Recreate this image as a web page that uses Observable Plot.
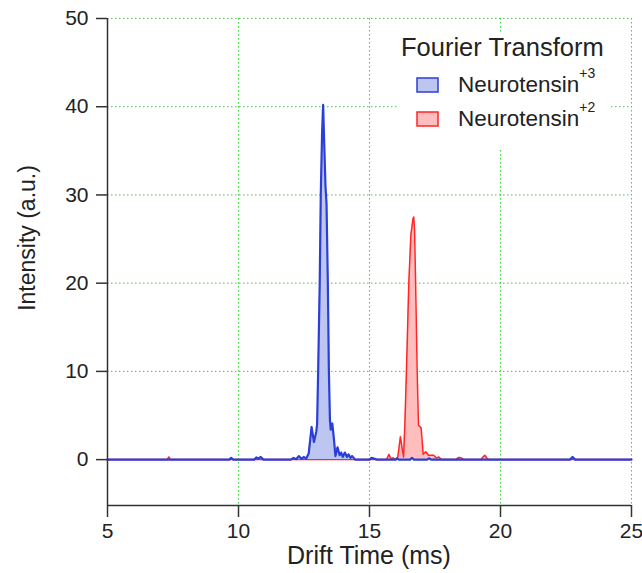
<!DOCTYPE html>
<html>
<head>
<meta charset="utf-8">
<script src="https://cdn.jsdelivr.net/npm/d3@7"></script>
<script src="https://cdn.jsdelivr.net/npm/@observablehq/plot@0.6"></script>
<style>
  html, body { margin: 0; padding: 0; background: #fff; }
</style>
</head>
<body>
<div id="chart"></div>
<script>
// Drift time (ms) and intensity (a.u.)
const blueTime = [5, 9.65, 9.72, 9.8, 10.6, 10.68, 10.75, 10.85, 10.95, 12.0, 12.1, 12.2, 12.3, 12.4, 12.5, 12.58, 12.68, 12.79, 12.88, 12.97, 13.0, 13.04, 13.1, 13.14, 13.19, 13.23, 13.27, 13.32, 13.36, 13.41, 13.45, 13.49, 13.52, 13.58, 13.64, 13.7, 13.78, 13.86, 13.92, 13.98, 14.06, 14.14, 14.2, 14.28, 14.34, 14.45, 15.0, 15.08, 15.2, 15.28, 16.0, 16.05, 16.12, 16.55, 16.62, 16.7, 17.2, 17.27, 17.35, 22.65, 22.75, 22.85, 25];
const blueValue = [0, 0, 0.2, 0, 0, 0.25, 0.1, 0.3, 0, 0, 0.2, 0.05, 0.4, 0.1, 0.3, 0.1, 0.7, 3.7, 2.0, 3.2, 4, 10, 20, 30, 37, 40.2, 36, 31, 29, 20, 10, 4.5, 3.4, 4.1, 2.4, 0.4, 1.4, 0.5, 0.8, 0.3, 0.8, 0.3, 0.6, 0.2, 0.4, 0, 0, 0.2, 0.1, 0, 0, 0.15, 0, 0, 0.2, 0, 0, 0.15, 0, 0, 0.3, 0, 0];

const redTime = [5, 7.28, 7.34, 7.4, 15.65, 15.74, 15.82, 15.9, 16.0, 16.08, 16.18, 16.25, 16.3, 16.35, 16.41, 16.5, 16.58, 16.66, 16.69, 16.72, 16.76, 16.82, 16.87, 16.97, 17.05, 17.15, 17.25, 17.45, 17.55, 17.65, 17.75, 18.3, 18.4, 18.5, 18.6, 19.25, 19.4, 19.5, 19.55, 25];
const redValue = [0, 0, 0.3, 0, 0, 0.6, 0.1, 0.2, 0, 0.3, 2.6, 1.2, 0.3, 4, 10, 20, 25.5, 27.3, 27.5, 26, 20, 10, 3.9, 3.6, 0.6, 0.9, 0.5, 0.5, 0.2, 0.3, 0, 0, 0.25, 0.2, 0, 0, 0.5, 0.1, 0, 0];

const xTicks = [5, 10, 15, 20, 25];
const yTicks = [0, 10, 20, 30, 40, 50];
const seriesNames = ["Neurotensin", "Neurotensin"];
const seriesCharges = ["+3", "+2"];
const legendTitle = "Fourier Transform";
const xLabel = "Drift Time (ms)";
const yLabel = "Intensity (a.u.)";

const blue = blueTime.map((t, i) => ({t, v: blueValue[i]}));
const red = redTime.map((t, i) => ({t, v: redValue[i]}));

const FONT = "'Liberation Sans', Arial, Helvetica, sans-serif";
const blueLine = "#2b3ed8", blueFill = "#bdc6f0";
const redLine = "#ff2626", redFill = "#ffbdbd";
const gridStyle = {stroke: "#3fcc3f", strokeOpacity: 1, strokeDasharray: "1.5,2.5", strokeWidth: 1};

const chart = Plot.plot({
  width: 642,
  height: 573,
  marginLeft: 107,
  marginRight: 11,
  marginTop: 18,
  marginBottom: 68,
  x: {domain: [5, 25]},
  y: {domain: [-5.2, 50]},
  style: {fontFamily: FONT, fontSize: "21px", color: "#222", background: "#fff", overflow: "visible"},
  marks: [
    Plot.gridX(xTicks.slice(1), gridStyle),
    Plot.gridY(yTicks.slice(1), gridStyle),
    Plot.areaY(red, {x: "t", y: "v", fill: redFill}),
    Plot.lineY(red, {x: "t", y: "v", stroke: redLine, strokeWidth: 1.5}),
    Plot.areaY(blue, {x: "t", y: "v", fill: blueFill}),
    Plot.lineY(blue, {x: "t", y: "v", stroke: blueLine, strokeWidth: 2.2}),
    Plot.ruleX([5], {stroke: "#333", strokeWidth: 1.5}),
    Plot.ruleY([-5.2], {stroke: "#333", strokeWidth: 1.5}),
    Plot.axisX(xTicks, {tickSize: 12, tickPadding: 6, label: null, stroke: "#333", strokeWidth: 1.5}),
    Plot.axisY(yTicks, {tickSize: 11, tickPadding: 8, label: null, stroke: "#333", strokeWidth: 1.5})
  ]
});

document.getElementById("chart").appendChild(chart);

const svg = d3.select(chart);
// axis titles
svg.append("text")
  .attr("x", 369).attr("y", 564)
  .attr("text-anchor", "middle")
  .attr("font-family", FONT).attr("font-size", 25).attr("fill", "#222")
  .text(xLabel);
svg.append("text")
  .attr("transform", "translate(35,238) rotate(-90)")
  .attr("text-anchor", "middle")
  .attr("font-family", FONT).attr("font-size", 23).attr("fill", "#222")
  .text(yLabel);

// legend
const lg = svg.append("g").attr("text-anchor", "start");
lg.append("rect").attr("x", 397).attr("y", 33).attr("width", 212).attr("height", 115).attr("fill", "#fff");
lg.append("text")
  .attr("x", 401).attr("y", 56)
  .attr("text-anchor", "start")
  .attr("font-family", FONT).attr("font-size", 25.5).attr("fill", "#222")
  .text(legendTitle);
const swatches = [{fill: blueFill, stroke: blueLine, y: 78}, {fill: redFill, stroke: redLine, y: 112}];
swatches.forEach((s, i) => {
  lg.append("rect")
    .attr("x", 417).attr("y", s.y).attr("width", 21).attr("height", 14)
    .attr("fill", s.fill).attr("stroke", s.stroke).attr("stroke-width", 1.5);
  const t = lg.append("text")
    .attr("x", 458).attr("y", s.y + 14)
    .attr("text-anchor", "start")
    .attr("font-family", FONT).attr("font-size", 22.5).attr("fill", "#222");
  t.append("tspan").text(seriesNames[i]);
  t.append("tspan").attr("dy", -14).attr("font-size", 14).text(seriesCharges[i]);
});
</script>
</body>
</html>
